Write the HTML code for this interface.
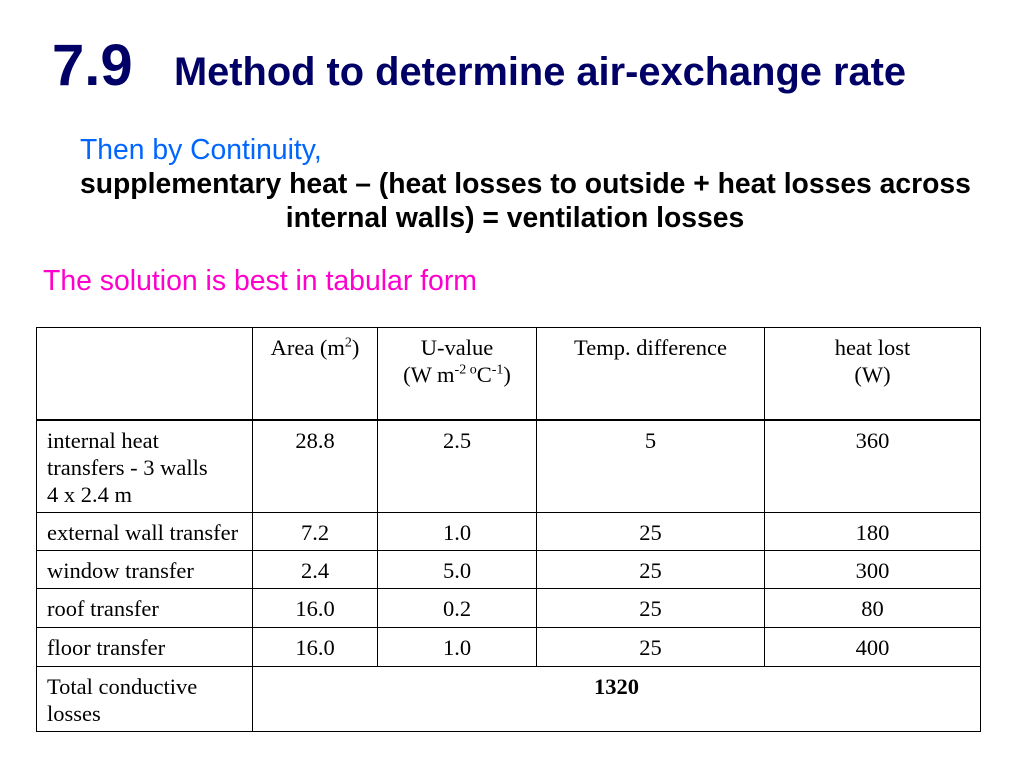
<!DOCTYPE html>
<html><head><meta charset="utf-8"><style>
body{margin:0;width:1024px;height:768px;background:#fff;position:relative;overflow:hidden;font-family:"Liberation Sans",sans-serif}
.a{position:absolute;white-space:nowrap}
table{position:absolute;left:36px;top:327px;border-collapse:collapse;font-family:"Liberation Serif",serif;font-size:22.5px;color:#000;table-layout:fixed}
td{border:1.5px solid #000;vertical-align:top;padding:0;line-height:27px;overflow:hidden;white-space:nowrap}
.c{text-align:center}
td.l{padding-left:10px}
sup{font-size:14px;line-height:0}
</style></head><body>
<div class="a" style="left:52px;top:32px;font-size:58px;font-weight:bold;color:#000066">7.9</div>
<div class="a" style="left:174px;top:50px;font-size:39.8px;font-weight:bold;color:#000066">Method to determine air-exchange rate</div>
<div class="a" style="left:80px;top:133px;font-size:28.3px;color:#0066ff">Then by Continuity,</div>
<div class="a" style="left:80px;top:166px;width:870px;font-size:28.3px;font-weight:bold;white-space:normal;text-align:center;line-height:34px;color:#000"><span style="display:block;text-align:left;white-space:nowrap">supplementary heat – (heat losses to outside + heat losses across</span>internal walls) = ventilation losses</div>
<div class="a" style="left:43px;top:265px;font-size:28.4px;color:#ff00cc">The solution is best in tabular form</div>
<table>
<colgroup><col style="width:216px"><col style="width:125px"><col style="width:159px"><col style="width:228px"><col style="width:216px"></colgroup>
<tr style="height:92px;border-bottom:2.5px solid #000">
<td></td>
<td class="c" style="padding-top:6px">Area (m<sup>2</sup>)</td>
<td class="c" style="padding-top:6px">U-value<br>(W m<sup>-2 o</sup>C<sup>-1</sup>)</td>
<td class="c" style="padding-top:6px">Temp. difference</td>
<td class="c" style="padding-top:6px">heat lost<br>(W)</td>
</tr>
<tr style="height:93px"><td class="l" style="padding-top:6px">internal heat<br>transfers - 3 walls<br>4 x 2.4 m</td><td class="c" style="padding-top:6px">28.8</td><td class="c" style="padding-top:6px">2.5</td><td class="c" style="padding-top:6px">5</td><td class="c" style="padding-top:6px">360</td></tr>
<tr style="height:38px"><td class="l" style="padding-top:6px">external wall transfer</td><td class="c" style="padding-top:6px">7.2</td><td class="c" style="padding-top:6px">1.0</td><td class="c" style="padding-top:6px">25</td><td class="c" style="padding-top:6px">180</td></tr>
<tr style="height:38px"><td class="l" style="padding-top:6px">window transfer</td><td class="c" style="padding-top:6px">2.4</td><td class="c" style="padding-top:6px">5.0</td><td class="c" style="padding-top:6px">25</td><td class="c" style="padding-top:6px">300</td></tr>
<tr style="height:39px"><td class="l" style="padding-top:6px">roof transfer</td><td class="c" style="padding-top:6px">16.0</td><td class="c" style="padding-top:6px">0.2</td><td class="c" style="padding-top:6px">25</td><td class="c" style="padding-top:6px">80</td></tr>
<tr style="height:39px"><td class="l" style="padding-top:6px">floor transfer</td><td class="c" style="padding-top:6px">16.0</td><td class="c" style="padding-top:6px">1.0</td><td class="c" style="padding-top:6px">25</td><td class="c" style="padding-top:6px">400</td></tr>
<tr style="height:65px"><td class="l" style="padding-top:6px">Total conductive<br>losses</td><td class="c" colspan="4" style="padding-top:6px;font-weight:bold">1320</td></tr>
</table>
</body></html>
